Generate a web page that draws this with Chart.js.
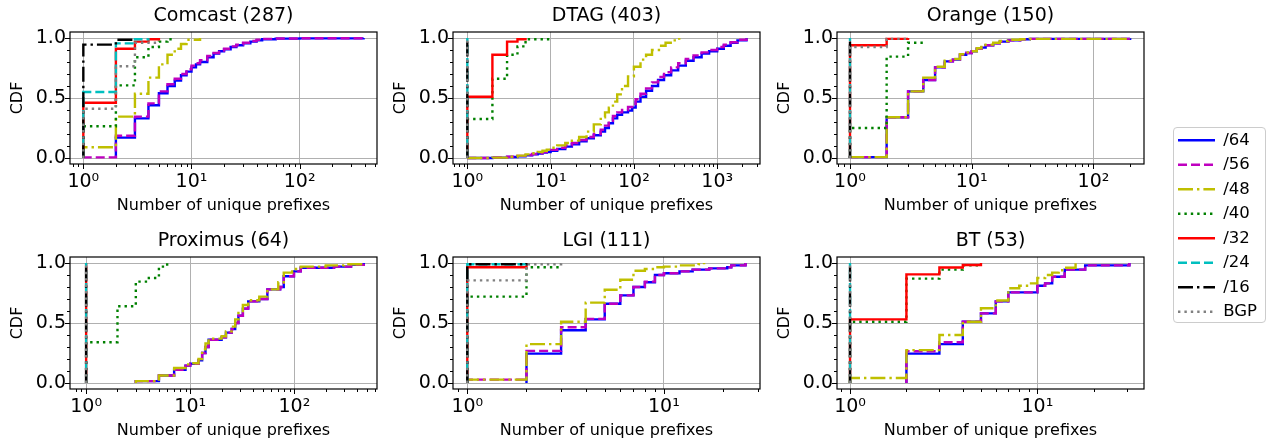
<!DOCTYPE html>
<html>
<head>
<meta charset="utf-8">
<script src="https://cdn.jsdelivr.net/npm/chart.js@4.4.0/dist/chart.umd.min.js"></script>
<style>
body { margin: 0; background: #fff; width: 1267px; height: 444px; overflow: hidden; position: relative; }
canvas { position: absolute; }
#legend-frame { position: absolute; left: 1173px; top: 127px; width: 91px; height: 194px; border: 1px solid #cccccc; border-radius: 4px; }
</style>
</head>
<body>
<div id="legend-frame"></div>
<canvas id="p0" width="387" height="218" style="left:0px;top:0px"></canvas>
<canvas id="p1" width="387" height="218" style="left:383px;top:0px"></canvas>
<canvas id="p2" width="387" height="218" style="left:767px;top:0px"></canvas>
<canvas id="p3" width="387" height="218" style="left:0px;top:225px"></canvas>
<canvas id="p4" width="387" height="218" style="left:383px;top:225px"></canvas>
<canvas id="p5" width="387" height="218" style="left:767px;top:225px"></canvas>
<canvas id="legend" width="97" height="215" style="left:1170px;top:124px"></canvas>
<script>
const seriesLabels = ['/64', '/56', '/48', '/40', '/32', '/24', '/16', 'BGP'];
const panelTitles = ['Comcast (287)', 'DTAG (403)', 'Orange (150)', 'Proximus (64)', 'LGI (111)', 'BT (53)'];
const cdfTicks = [0, 0.1, 0.2, 0.3, 0.4, 0.5, 0.6, 0.7, 0.8, 0.9, 1.0];
const cdfLabelTicks = [0, 0.5, 1.0];

// Comcast
const comcast64 = [[2,0],[2,0.17],[3,0.33],[4,0.44],[5,0.54],[6,0.60],[7,0.645],[8,0.69],[9,0.72],[10,0.755],[11,0.78],[12,0.80],[14,0.84],[16,0.87],[18,0.89],[20,0.905],[23,0.925],[26,0.94],[30,0.955],[35,0.97],[40,0.98],[45,0.99],[60,0.995],[100,0.997],[390,1.0]];
const comcast56 = [[1,0],[1,0.005],[2,0.185],[3,0.345],[4,0.455],[5,0.555],[6,0.615],[7,0.66],[8,0.70],[9,0.74],[10,0.77],[11,0.79],[12,0.815],[14,0.85],[16,0.875],[18,0.895],[20,0.91],[23,0.93],[26,0.945],[30,0.96],[35,0.975],[40,0.985],[45,0.993],[60,0.996],[100,0.998],[390,1.0]];
const comcast48 = [[1,0],[1,0.09],[2,0.345],[3,0.535],[4,0.67],[5,0.78],[6,0.86],[7,0.91],[8,0.95],[9,0.985],[12,1.0]];
const comcast40 = [[1,0],[1,0.265],[2,0.605],[3,0.84],[4,0.925],[5,0.97],[6,0.99],[7,0.997]];
const comcast32 = [[1,0],[1,0.46],[2,0.91],[3,0.97],[4,0.99],[5,1.0]];
const comcast24 = [[1,0],[1,0.55],[2,0.955],[3,0.99],[4,0.997]];
const comcast16 = [[1,0],[1,0.945],[2,0.986],[3,0.997]];
const comcastBgp = [[1,0],[1,0.41],[2,0.765],[3,0.96],[5,0.97]];

// DTAG
const dtag64 = [[1,0],[2,0.003],[3,0.008],[4,0.015],[5,0.022],[6,0.03],[7,0.037],[8,0.045],[9,0.05],[10,0.06],[12,0.075],[15,0.095],[18,0.115],[22,0.14],[27,0.165],[33,0.19],[40,0.22],[45,0.25],[50,0.29],[56,0.33],[63,0.36],[72,0.38],[85,0.395],[95,0.42],[105,0.47],[120,0.51],[140,0.56],[165,0.60],[195,0.65],[230,0.69],[280,0.73],[340,0.77],[420,0.81],[520,0.84],[650,0.87],[800,0.89],[1000,0.91],[1200,0.935],[1450,0.96],[1750,0.98],[2250,1.0]];
const dtag56 = [[1,0],[2,0.004],[3,0.01],[4,0.018],[5,0.025],[6,0.033],[7,0.04],[8,0.05],[9,0.057],[10,0.068],[12,0.085],[15,0.105],[18,0.125],[22,0.15],[27,0.175],[33,0.2],[40,0.235],[45,0.27],[50,0.31],[56,0.35],[63,0.38],[72,0.40],[85,0.425],[95,0.45],[105,0.49],[120,0.535],[140,0.58],[165,0.63],[195,0.675],[230,0.715],[280,0.755],[340,0.79],[420,0.825],[520,0.855],[650,0.88],[800,0.9],[1000,0.925],[1200,0.945],[1450,0.965],[1750,0.985],[2250,1.0]];
const dtag48 = [[1,0],[2,0.003],[3,0.01],[4,0.02],[5,0.03],[6,0.04],[7,0.05],[8,0.06],[9,0.07],[10,0.085],[12,0.105],[15,0.125],[18,0.145],[22,0.175],[27,0.22],[33,0.28],[40,0.34],[45,0.38],[50,0.42],[56,0.47],[63,0.53],[72,0.6],[85,0.68],[100,0.76],[120,0.82],[140,0.86],[165,0.9],[200,0.935],[240,0.96],[290,0.98],[350,1.0]];
const dtag40 = [[1,0],[1,0.325],[2,0.66],[3,0.86],[4,0.93],[5,0.99],[10,1.0]];
const dtag32 = [[1,0],[1,0.51],[2,0.86],[3,0.97],[4,0.99],[5,1.0]];
const dtag24 = [[1,0],[1,1.0]];
const dtag16 = [[1,0],[1,1.0]];
const dtagBgp = [[1,0],[1,1.0]];

// Orange
const orange64 = [[1,0],[1,0.007],[2,0.34],[3,0.555],[4,0.65],[5,0.755],[6,0.805],[7,0.82],[8,0.86],[9,0.875],[10,0.89],[11,0.91],[12,0.92],[13,0.94],[15,0.955],[17,0.97],[20,0.98],[25,0.99],[30,0.993],[200,1.0]];
const orange56 = [[1,0],[1,0.007],[2,0.34],[3,0.555],[4,0.65],[5,0.755],[6,0.805],[7,0.82],[8,0.86],[9,0.875],[10,0.89],[11,0.91],[12,0.92],[13,0.94],[15,0.955],[17,0.97],[20,0.98],[25,0.99],[30,0.993],[200,1.0]];
const orange48 = [[1,0],[1,0.007],[2,0.34],[3,0.555],[4,0.67],[5,0.76],[6,0.81],[7,0.825],[8,0.865],[9,0.88],[10,0.89],[11,0.915],[12,0.925],[13,0.945],[15,0.96],[17,0.975],[20,0.985],[25,0.99],[30,0.993],[200,1.0]];
const orange40 = [[1,0],[1,0.25],[2,0.845],[3,0.96],[4,0.967]];
const orange32 = [[1,0],[1,0.94],[2,0.993],[3,1.0]];
const orange24 = [[1,0],[1,1.0]];
const orange16 = [[1,0],[1,1.0]];
const orangeBgp = [[1,0],[1,0.925],[2,0.993],[3,1.0]];

// Proximus
const proximus64 = [[3,0],[3,0.016],[5,0.063],[7,0.11],[9,0.145],[10,0.16],[12,0.19],[13,0.25],[14,0.3],[15,0.36],[20,0.38],[22,0.42],[25,0.45],[27,0.5],[29,0.56],[32,0.62],[36,0.68],[46,0.7],[55,0.78],[73,0.8],[79,0.89],[99,0.93],[115,0.96],[240,0.97],[350,0.985],[463,1.0]];
const proximus56 = [[3,0],[3,0.016],[5,0.063],[7,0.11],[9,0.145],[10,0.16],[12,0.19],[13,0.25],[14,0.3],[15,0.36],[20,0.38],[22,0.42],[25,0.45],[27,0.5],[29,0.56],[32,0.62],[36,0.68],[46,0.7],[55,0.78],[73,0.8],[79,0.89],[99,0.93],[115,0.96],[240,0.97],[350,0.985],[463,1.0]];
const proximus48 = [[3,0],[3,0.016],[5,0.063],[7,0.125],[9,0.155],[10,0.165],[12,0.2],[13,0.28],[14,0.33],[15,0.37],[20,0.39],[22,0.43],[25,0.47],[27,0.53],[29,0.6],[32,0.65],[36,0.69],[46,0.72],[55,0.78],[70,0.84],[79,0.92],[95,0.95],[115,0.97],[200,0.98],[300,0.99],[463,1.0]];
const proximus40 = [[1,0],[1,0.34],[2,0.64],[3,0.845],[4,0.875],[5,0.97],[6,1.0]];
const proximus32 = [[1,0],[1,1.0]];
const proximus24 = [[1,0],[1,1.0]];
const proximus16 = [[1,0],[1,1.0]];
const proximusBgp = [[1,0],[1,1.0]];

// LGI
const lgi64 = [[2,0],[2,0.245],[3,0.44],[4,0.53],[5,0.66],[6,0.73],[7,0.80],[8,0.84],[9,0.90],[10,0.915],[12,0.93],[14,0.945],[17,0.955],[21,0.965],[22,0.98],[26,1.0]];
const lgi56 = [[1,0],[1,0.028],[2,0.268],[3,0.464],[4,0.534],[5,0.66],[6,0.73],[7,0.80],[8,0.845],[9,0.90],[10,0.915],[12,0.93],[14,0.945],[17,0.955],[21,0.965],[22,0.98],[26,1.0]];
const lgi48 = [[1,0],[1,0.028],[2,0.324],[3,0.511],[4,0.67],[5,0.777],[6,0.86],[7,0.935],[8,0.95],[9,0.965],[10,0.97],[12,0.98],[15,0.99],[16,1.0]];
const lgi40 = [[1,0],[1,0.72],[2,0.965],[3,0.97]];
const lgi32 = [[1,0],[1,0.965],[2,1.0]];
const lgi24 = [[1,0],[1,0.99],[2,1.0]];
const lgi16 = [[1,0],[1,0.99],[2,1.0]];
const lgiBgp = [[1,0],[1,0.855],[2,0.99],[3,1.0]];

// BT
const bt64 = [[2,0],[2,0.245],[3,0.324],[4,0.51],[5,0.58],[6,0.68],[7,0.755],[10,0.81],[11,0.83],[12,0.885],[14,0.945],[18,0.98],[31,1.0]];
const bt56 = [[2,0],[2,0.265],[3,0.34],[4,0.51],[5,0.58],[6,0.68],[7,0.755],[10,0.81],[11,0.83],[12,0.885],[14,0.945],[18,0.98],[31,1.0]];
const bt48 = [[1,0],[1,0.042],[2,0.274],[3,0.40],[4,0.51],[5,0.623],[6,0.687],[7,0.79],[8,0.81],[9,0.83],[10,0.875],[11,0.90],[12,0.92],[13,0.94],[14,0.96],[16,1.0]];
const bt40 = [[1,0],[1,0.51],[2,0.87],[3,0.945],[4,0.98],[5,0.98]];
const bt32 = [[1,0],[1,0.53],[2,0.905],[3,0.962],[4,0.983],[5,1.0]];
const bt24 = [[1,0],[1,1.0]];
const bt16 = [[1,0],[1,1.0]];
const btBgp = [[1,0],[1,1.0]];

const panels = [
    [comcast64, comcast56, comcast48, comcast40, comcast32, comcast24, comcast16, comcastBgp],
    [dtag64, dtag56, dtag48, dtag40, dtag32, dtag24, dtag16, dtagBgp],
    [orange64, orange56, orange48, orange40, orange32, orange24, orange16, orangeBgp],
    [proximus64, proximus56, proximus48, proximus40, proximus32, proximus24, proximus16, proximusBgp],
    [lgi64, lgi56, lgi48, lgi40, lgi32, lgi24, lgi16, lgiBgp],
    [bt64, bt56, bt48, bt40, bt32, bt24, bt16, btBgp]
];

// axis limits of each panel (log x)
const xLimits = [[0.753, 519], [0.673, 3265], [0.782, 260], [0.731, 621], [0.846, 30.8], [0.852, 37.1]];

const lineColors = ['#0000ff', '#bf00bf', '#bfbf00', '#008000', '#ff0000', '#00bfbf', '#000000', '#808080'];
const lineDashes = [[], [9, 4], [15, 4, 2.4, 4], [2.4, 4], [], [9, 4], [15, 4, 2.4, 4], [2.4, 4]];
const supDigits = ['\u2070', '\u00b9', '\u00b2', '\u00b3'];

Chart.defaults.font.family = "'DejaVu Sans', sans-serif";
Chart.defaults.color = '#000';

function isDecade(v) {
    const l = Math.log10(v);
    return Math.abs(l - Math.round(l)) < 1e-9;
}

function isLabelled(v) {
    return cdfLabelTicks.some(t => Math.abs(t - v) < 1e-9);
}

function logTicks(min, max) {
    const out = [];
    for (let e = Math.floor(Math.log10(min)); e <= Math.ceil(Math.log10(max)); e++) {
        for (let m = 1; m <= 9; m++) {
            const v = m * Math.pow(10, e);
            if (v >= min && v <= max) out.push({ value: v });
        }
    }
    return out;
}

// frame + outward tick marks like matplotlib
const frameTicks = {
    id: 'frameTicks',
    afterDatasetsDraw(chart) {
        const ctx = chart.ctx, a = chart.chartArea, sx = chart.scales.x, sy = chart.scales.y;
        ctx.save();
        ctx.strokeStyle = '#000';
        ctx.lineWidth = 1;
        ctx.beginPath();
        sx.ticks.forEach(t => {
            const px = Math.round(sx.getPixelForValue(t.value)) + 0.5;
            const len = isDecade(t.value) ? 5 : 3;
            ctx.moveTo(px, a.bottom);
            ctx.lineTo(px, a.bottom + len);
        });
        sy.ticks.forEach(t => {
            const py = Math.round(sy.getPixelForValue(t.value)) + 0.5;
            const len = isLabelled(t.value) ? 5 : 3;
            ctx.moveTo(a.left - len, py);
            ctx.lineTo(a.left, py);
        });
        ctx.stroke();
        ctx.lineWidth = 1.2;
        ctx.strokeRect(a.left, a.top, a.right - a.left, a.bottom - a.top);
        ctx.restore();
    }
};

function drawPanel(i) {
    const xMin = xLimits[i][0], xMax = xLimits[i][1];
    const datasets = panels[i].map((pts, k) => ({
        label: seriesLabels[k],
        data: pts.map(p => ({ x: p[0], y: p[1] })),
        borderColor: lineColors[k],
        borderDash: lineDashes[k],
        borderWidth: 2.4,
        borderCapStyle: 'butt',
        pointRadius: 0,
        stepped: true,
        fill: false,
        order: seriesLabels.length - k
    }));
    new Chart(document.getElementById('p' + i), {
        type: 'line',
        data: { datasets: datasets },
        options: {
            responsive: false,
            animation: false,
            events: [],
            layout: { padding: { left: 0, right: 10, top: 0, bottom: 0 } },
            plugins: {
                legend: { display: false },
                tooltip: { enabled: false },
                title: {
                    display: true, text: panelTitles[i], fullSize: false,
                    font: { size: 19, weight: 'normal' }, color: '#000',
                    padding: { top: 5, bottom: 4.2 }
                }
            },
            scales: {
                x: {
                    type: 'logarithmic', min: xMin, max: xMax,
                    afterBuildTicks: s => { s.ticks = logTicks(xMin, xMax); },
                    afterFit: s => { s.height = 54; },
                    ticks: {
                        autoSkip: false, maxRotation: 0, padding: 7, font: { size: 19 }, color: '#000',
                        callback: v => isDecade(v) ? '10' + supDigits[Math.round(Math.log10(v))] : ''
                    },
                    grid: {
                        drawTicks: false, lineWidth: 1,
                        color: c => (c.tick && isDecade(c.tick.value)) ? '#b0b0b0' : 'rgba(0,0,0,0)'
                    },
                    border: { display: false },
                    title: { display: true, text: 'Number of unique prefixes', font: { size: 16 }, color: '#000', padding: { top: 0, bottom: 3 } }
                },
                y: {
                    min: -0.05, max: 1.05,
                    afterBuildTicks: s => { s.ticks = cdfTicks.map(v => ({ value: v })); },
                    afterFit: s => { s.width = 70; },
                    ticks: {
                        autoSkip: false, padding: 4, font: { size: 19 }, color: '#000',
                        callback: v => isLabelled(v) ? v.toFixed(1) : ''
                    },
                    grid: {
                        drawTicks: false, lineWidth: 1,
                        color: c => (c.tick && isLabelled(c.tick.value)) ? '#b0b0b0' : 'rgba(0,0,0,0)'
                    },
                    border: { display: false },
                    title: { display: true, text: 'CDF', font: { size: 16 }, color: '#000', padding: { top: 8.4, bottom: 0 } }
                }
            }
        },
        plugins: [frameTicks]
    });
}

for (let i = 0; i < panels.length; i++) {
    drawPanel(i);
}

// shared legend on the right
new Chart(document.getElementById('legend'), {
    type: 'line',
    data: {
        datasets: seriesLabels.map((lab, k) => ({
            label: lab, data: [], borderColor: lineColors[k], borderDash: lineDashes[k], borderWidth: 2.4
        }))
    },
    options: {
        responsive: false,
        animation: false,
        events: [],
        scales: { x: { display: false }, y: { display: false } },
        plugins: {
            tooltip: { enabled: false },
            legend: {
                position: 'left', align: 'start', maxWidth: 97,
                labels: {
                    usePointStyle: true, pointStyle: 'line', pointStyleWidth: 37, padding: 8,
                    font: { size: 16.5 }, color: '#000',
                    generateLabels: () => seriesLabels.map((lab, k) => ({
                        text: lab, datasetIndex: k, hidden: false,
                        fillStyle: lineColors[k], strokeStyle: lineColors[k], fontColor: '#000',
                        lineWidth: 2.4, lineDash: lineDashes[k], lineCap: 'butt', pointStyle: 'line'
                    }))
                }
            }
        }
    }
});
</script>
</body>
</html>
